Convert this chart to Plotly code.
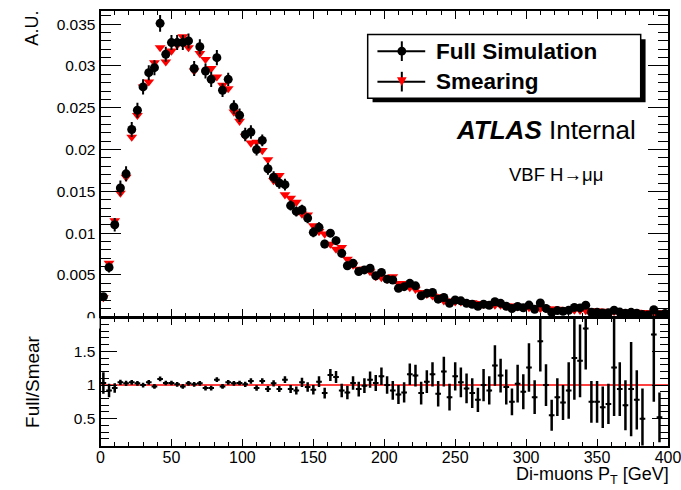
import plotly.graph_objects as go

# ---------------- data ----------------
BIN_WIDTH = 4.0
N_BINS = 100
bin_centers = [BIN_WIDTH * (i + 0.5) for i in range(N_BINS)]

full_sim = [
    0.0024, 0.0059, 0.0110, 0.0154, 0.0171, 0.0224, 0.0247, 0.0275, 0.0292, 0.0298,
    0.0351, 0.0314, 0.0328, 0.0328, 0.0328, 0.0330, 0.0297, 0.0323, 0.0294, 0.0284,
    0.0310, 0.0271, 0.0284, 0.0251, 0.0241, 0.0218, 0.0221, 0.0200, 0.0211, 0.0177,
    0.0167, 0.0160, 0.0158, 0.0133, 0.0126, 0.0128, 0.0118, 0.0101, 0.0107, 0.0087,
    0.0100, 0.0091, 0.0076, 0.0061, 0.0064, 0.0054, 0.0056, 0.0058, 0.0049, 0.0053,
    0.0045, 0.0044, 0.0034, 0.0036, 0.0040, 0.0037, 0.0025, 0.0028, 0.0029, 0.0021,
    0.0023, 0.0016, 0.0020, 0.0019, 0.0016, 0.0015, 0.00125, 0.0015, 0.00138, 0.0018,
    0.0016, 0.00126, 0.00098, 0.00122, 0.00108, 0.00139, 0.0009, 0.00165, 0.0010, 0.00052,
    0.00074, 0.00065, 0.00078, 0.00112, 0.00106, 0.00138, 0.00054, 0.00053, 0.00045, 0.00047,
    0.00078, 0.00056, 0.00041, 0.00053, 0.00042, 0.00026, 0.0002, 0.00084, 0.00023, 0.0004,
]

full_err = [
    0.0004, 0.0006, 0.0008, 0.0009, 0.0009, 0.0009, 0.0009, 0.0009, 0.0009, 0.0009,
    0.0010, 0.0009, 0.0009, 0.0009, 0.0009, 0.0009, 0.0009, 0.0009, 0.0009, 0.0009,
    0.0009, 0.0008, 0.0008, 0.0008, 0.0008, 0.0008, 0.0008, 0.0007, 0.0007, 0.0007,
    0.0007, 0.0007, 0.0007, 0.0006, 0.0006, 0.0006, 0.0006, 0.0006, 0.0006, 0.0005,
    0.0005, 0.0005, 0.0005, 0.0005, 0.0005, 0.0004, 0.0004, 0.0004, 0.0004, 0.0004,
    0.0004, 0.0004, 0.0004, 0.0004, 0.0004, 0.0004, 0.0004, 0.0004, 0.0004, 0.0004,
    0.0003, 0.0003, 0.0003, 0.0003, 0.0003, 0.0003, 0.0003, 0.0003, 0.0003, 0.0003,
    0.0003, 0.0003, 0.0003, 0.0003, 0.0003, 0.0003, 0.0003, 0.0003, 0.0003, 0.0003,
    0.0003, 0.0003, 0.0003, 0.0003, 0.0003, 0.0003, 0.0003, 0.0003, 0.0003, 0.0003,
    0.0003, 0.0003, 0.0003, 0.0003, 0.0003, 0.0003, 0.0003, 0.0003, 0.0003, 0.0003,
]

smearing = [
    0.0023, 0.0064, 0.0115, 0.0148, 0.0167, 0.0215, 0.0241, 0.0275, 0.0281, 0.0304,
    0.0322, 0.0305, 0.0318, 0.0325, 0.0335, 0.0322, 0.0294, 0.0315, 0.0308, 0.0297,
    0.0287, 0.0277, 0.0273, 0.0245, 0.0234, 0.0216, 0.0208, 0.0209, 0.0199, 0.0188,
    0.0163, 0.0169, 0.0146, 0.0142, 0.0137, 0.0123, 0.0122, 0.0109, 0.0102, 0.0099,
    0.0087, 0.0081, 0.0083, 0.0069, 0.0062, 0.0057, 0.0057, 0.0054, 0.0048, 0.0047,
    0.0045, 0.0048, 0.0040, 0.0040, 0.0035, 0.0033, 0.0029, 0.0027, 0.0025, 0.0024,
    0.0019, 0.0019, 0.0018, 0.0018, 0.0017, 0.0017, 0.0016, 0.0015, 0.0015, 0.0014,
    0.0014, 0.0013, 0.0013, 0.0012, 0.0012, 0.0011, 0.0011, 0.0010, 0.0010, 0.00095,
    0.0009, 0.00088, 0.00085, 0.0008, 0.00078, 0.00075, 0.00072, 0.0007, 0.00067, 0.00065,
    0.00062, 0.0006, 0.00058, 0.00056, 0.00054, 0.00052, 0.0005, 0.00048, 0.00046, 0.00045,
]

ratio = [
    1.03, 0.92, 0.955, 1.04, 1.025, 1.04, 1.025, 1.0, 1.04, 0.98,
    1.09, 1.03, 1.03, 1.01, 0.98, 1.025, 1.01, 1.025, 0.955, 0.955,
    1.08, 0.98, 1.04, 1.025, 1.03, 1.01, 1.06, 0.955, 1.06, 0.94,
    1.025, 0.94, 1.08, 0.94, 0.92, 1.04, 0.97, 0.93, 1.05, 0.88,
    1.15, 1.12, 0.92, 0.89, 1.03, 0.94, 0.99, 1.08, 1.03, 1.13,
    1.0, 0.92, 0.86, 0.89, 1.16, 1.14, 0.88, 1.05, 1.16, 0.87,
    1.2, 0.82, 1.13, 1.04, 0.95, 0.88, 0.78, 1.0, 0.92, 1.29,
    1.14, 0.97, 0.75, 1.02, 0.9, 1.26, 0.82, 1.65, 1.0, 0.55,
    0.82, 0.74, 0.92, 1.4, 1.36, 1.84, 0.75, 0.75, 0.67, 0.72,
    1.26, 0.94, 0.7, 0.94, 0.78, 0.5, None, 1.75, 0.52, None,
]

ratio_err = [
    0.16, 0.10, 0.07, 0.04, 0.04, 0.035, 0.035, 0.035, 0.035, 0.035,
    0.035, 0.035, 0.035, 0.035, 0.035, 0.035, 0.035, 0.035, 0.035, 0.035,
    0.035, 0.035, 0.035, 0.035, 0.035, 0.04, 0.04, 0.04, 0.04, 0.045,
    0.045, 0.045, 0.05, 0.06, 0.06, 0.07, 0.07, 0.07, 0.08, 0.08,
    0.09, 0.09, 0.1, 0.1, 0.1, 0.11, 0.11, 0.12, 0.12, 0.13,
    0.13, 0.14, 0.14, 0.15, 0.16, 0.16, 0.17, 0.17, 0.18, 0.19,
    0.22, 0.2, 0.21, 0.22, 0.22, 0.22, 0.18, 0.24, 0.21, 0.3,
    0.25, 0.26, 0.2, 0.28, 0.26, 0.36, 0.25, 0.45, 0.31, 0.23,
    0.28, 0.26, 0.42, 0.62, 0.54, 0.61, 0.31, 0.31, 0.31, 0.3,
    0.72, 0.4, 0.37, 0.7, 0.44, 0.45, None, 1.0, 0.37, None,
]

x_tick_vals = [0, 50, 100, 150, 200, 250, 300, 350, 400]
x_tick_text = ["0", "50", "100", "150", "200", "250", "300", "350", "400"]
y_tick_vals = [0, 0.005, 0.01, 0.015, 0.02, 0.025, 0.03, 0.035]
y_tick_text = ["0", "0.005", "0.01", "0.015", "0.02", "0.025", "0.03", "0.035"]
r_tick_vals = [0.5, 1.0, 1.5]
r_tick_text = ["0.5", "1", "1.5"]

# ---------------- layout helpers ----------------
W, H = 681, 490
FONT = "Liberation Sans, Arial, Helvetica, sans-serif"


def px(x):
    return x / W


def py(y):
    return 1 - y / H


fig = go.Figure()

fig.add_trace(go.Scatter(
    x=bin_centers, y=smearing, mode="markers", xaxis="x", yaxis="y",
    marker=dict(symbol="triangle-down", size=9.5, color="#ff0000", line=dict(width=0)),
    showlegend=False,
))
fig.add_trace(go.Scatter(
    x=bin_centers, y=full_sim, mode="markers", xaxis="x", yaxis="y",
    marker=dict(symbol="circle", size=9, color="black", line=dict(width=0)),
    error_y=dict(type="data", array=full_err, color="black", thickness=2, width=0),
    showlegend=False,
))
fig.add_trace(go.Scatter(
    x=bin_centers, y=ratio, mode="markers", xaxis="x2", yaxis="y2",
    marker=dict(symbol="circle", size=3, color="black"),
    error_y=dict(type="data", array=ratio_err, color="black", thickness=2.5, width=0),
    error_x=dict(type="constant", value=BIN_WIDTH / 2, color="black", thickness=2, width=0),
    showlegend=False,
))

axis_common = dict(
    showgrid=False, zeroline=False, showline=True, linecolor="black", linewidth=2,
    mirror="allticks", ticks="inside", tickcolor="black", tickwidth=1,
    tickfont=dict(family=FONT, size=15, color="black"),
)

X_DOMAIN = [px(99), 1.0]

fig.update_layout(
    width=W, height=H, autosize=False,
    margin=dict(l=0, r=0, t=0, b=0),
    paper_bgcolor="white", plot_bgcolor="white",
    font=dict(family=FONT, color="black"),
    showlegend=False,
    xaxis=dict(
        axis_common, domain=X_DOMAIN, anchor="y", range=[0, 400], matches="x2",
        showticklabels=False, tickvals=x_tick_vals, ticklen=8,
        minor=dict(ticks="inside", ticklen=4, dtick=10, tick0=0, tickcolor="black", showgrid=False),
    ),
    yaxis=dict(
        axis_common, domain=[py(322), py(11)], anchor="x", range=[0, 0.0366],
        tickvals=y_tick_vals, ticktext=y_tick_text, ticklen=20,
        tickfont=dict(family=FONT, size=15.5, color="black"),
        minor=dict(ticks="inside", ticklen=10, dtick=0.001, tick0=0, tickcolor="black", showgrid=False),
    ),
    xaxis2=dict(
        axis_common, domain=X_DOMAIN, anchor="y2", range=[0, 400],
        tickvals=x_tick_vals, ticktext=x_tick_text, ticklen=7,
        tickfont=dict(family=FONT, size=16, color="black"),
        ticklabeloverflow="allow", ticklabelstandoff=-4,
        minor=dict(ticks="inside", ticklen=4, dtick=10, tick0=0, tickcolor="black", showgrid=False),
    ),
    yaxis2=dict(
        axis_common, domain=[py(453), py(323)], anchor="x2", range=[0.1, 2.0],
        tickvals=r_tick_vals, ticktext=r_tick_text, ticklen=16,
        tickfont=dict(family=FONT, size=15.5, color="black"),
        minor=dict(ticks="inside", ticklen=8, dtick=0.1, tick0=0, tickcolor="black", showgrid=False),
    ),
)

shapes = []
# reference line at ratio = 1
shapes.append(dict(type="line", xref="x2", yref="y2", x0=0, x1=400, y0=1, y1=1,
                   line=dict(color="#ff0000", width=1.5), layer="below"))

# the lower pad hides the bottom half of the upper pad's "0" label
shapes.append(dict(type="rect", xref="paper", yref="paper",
                   x0=px(80), x1=px(98), y0=py(334), y1=py(323.5),
                   fillcolor="white", line=dict(width=0), layer="above"))

# legend box with shadow
shapes.append(dict(type="rect", xref="paper", yref="paper",
                   x0=px(378), x1=px(658), y0=py(104), y1=py(40),
                   fillcolor="black", line=dict(width=0), layer="above"))
shapes.append(dict(type="rect", xref="paper", yref="paper",
                   x0=px(373), x1=px(653), y0=py(100), y1=py(35),
                   fillcolor="white", line=dict(color="black", width=1.5), layer="above"))
for yc in (52, 83):
    shapes.append(dict(type="line", xref="paper", yref="paper",
                       x0=px(383), x1=px(432), y0=py(yc), y1=py(yc),
                       line=dict(color="black", width=2), layer="above"))
    shapes.append(dict(type="line", xref="paper", yref="paper",
                       x0=px(408), x1=px(408), y0=py(yc - 10), y1=py(yc + 10),
                       line=dict(color="black", width=2), layer="above"))
shapes.append(dict(type="circle", xref="paper", yref="paper",
                   x0=px(403.5), x1=px(412.5), y0=py(56.5), y1=py(47.5),
                   fillcolor="black", line=dict(color="black", width=0), layer="above"))
tri = "M {:.5f},{:.5f} L {:.5f},{:.5f} L {:.5f},{:.5f} Z".format(
    px(403), py(78.5), px(413), py(78.5), px(408), py(87.5))
shapes.append(dict(type="path", xref="paper", yref="paper", path=tri,
                   fillcolor="#ff0000", line=dict(color="#ff0000", width=0), layer="above"))

fig.update_layout(shapes=shapes)

annotations = [
    dict(text="<b>Full Simulation</b>", x=px(441), y=py(52), xanchor="left", yanchor="middle",
         font=dict(family=FONT, size=22.5, color="black")),
    dict(text="<b>Smearing</b>", x=px(441), y=py(83), xanchor="left", yanchor="middle",
         font=dict(family=FONT, size=22.5, color="black")),
    dict(text="<b><i>ATLAS</i></b> Internal", x=px(650), y=py(132), xanchor="right", yanchor="middle",
         font=dict(family=FONT, size=26, color="black")),
    dict(text="VBF H\u2192\u03bc\u03bc", x=px(616), y=py(177), xanchor="right", yanchor="middle",
         font=dict(family=FONT, size=18.5, color="black")),
    dict(text="A.U.", x=px(29), y=py(9), xanchor="center", yanchor="top", textangle=-90,
         font=dict(family=FONT, size=18, color="black")),
    dict(text="Full/Smear", x=px(29), y=py(388), xanchor="center", yanchor="middle", textangle=-90,
         font=dict(family=FONT, size=19, color="black")),
    dict(text="Di-muons P<sub>T</sub> [GeV]", x=px(684), y=py(497), xanchor="right", yanchor="bottom",
         font=dict(family=FONT, size=18, color="black")),
]
for a in annotations:
    a.update(xref="paper", yref="paper", showarrow=False)
fig.update_layout(annotations=annotations)

page_fix = ("document.documentElement.style.margin='0';"
            "document.body.style.margin='0';document.body.style.padding='0';"
            "document.documentElement.style.overflow='hidden';"
            "document.body.style.overflow='hidden';")

fig.write_html("out.html", post_script=page_fix)
